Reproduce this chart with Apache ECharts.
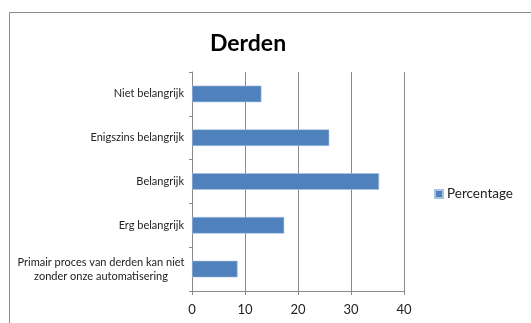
<!DOCTYPE html>
<html>
<head>
<meta charset="utf-8">
<script src="https://cdn.jsdelivr.net/npm/echarts@6/dist/echarts.min.js"></script>
<style>
  html, body { margin: 0; padding: 0; background: #fff; }
  #chart { width: 531px; height: 323px; }
</style>
</head>
<body>
<div id="chart"></div>
<script>
// Categories listed top to bottom
const categories = [
  'Niet belangrijk',
  'Enigszins belangrijk',
  'Belangrijk',
  'Erg belangrijk',
  'Primair proces van derden kan niet\nzonder onze automatisering'
];
const percentage = [13.1, 25.9, 35.3, 17.4, 8.6];
const seriesName = 'Percentage';
const titleText = 'Derden';
const xMin = 0, xMax = 40, xStep = 10;

const FONT = 'Lato, "Open Sans", sans-serif';
const chart = echarts.init(document.getElementById('chart'), null, { renderer: 'canvas' });

chart.setOption({
  animation: false,
  backgroundColor: '#fff',
  graphic: [{
    type: 'rect',
    shape: { x: 9.5, y: 12.5, width: 600, height: 400 },
    style: { fill: 'none', stroke: '#8a8a8a', lineWidth: 1 },
    silent: true
  }],
  title: {
    text: titleText,
    left: 243,
    textAlign: 'center',
    top: 27,
    textStyle: { fontFamily: FONT, fontWeight: 'bold', fontSize: 23, color: '#000' }
  },
  legend: {
    data: [seriesName],
    left: 429,
    top: 182,
    itemWidth: 8,
    itemHeight: 8,
    itemGap: 4,
    icon: 'rect',
    textStyle: { fontFamily: FONT, fontSize: 13.5, color: '#222', padding: [0, 0, 0, -1] }
  },
  grid: { left: 192, right: 127, top: 72, bottom: 32, containLabel: false },
  xAxis: {
    type: 'value',
    min: xMin, max: xMax, interval: xStep,
    axisLine: { show: true, lineStyle: { color: '#8a8a8a' } },
    axisTick: { show: true, length: 4, lineStyle: { color: '#8a8a8a' } },
    splitLine: { show: true, lineStyle: { color: '#8a8a8a', width: 1 } },
    axisLabel: { fontFamily: FONT, fontSize: 13, color: '#222', margin: 12 }
  },
  yAxis: {
    type: 'category',
    data: categories,
    inverse: true,
    axisLine: { show: true, lineStyle: { color: '#8a8a8a' } },
    axisTick: { show: true, length: 3, lineStyle: { color: '#8a8a8a' } },
    axisLabel: {
      fontFamily: FONT, fontSize: 11, color: '#222', margin: 8, lineHeight: 14,
      formatter: function (v) {
        if (v.indexOf('\n') < 0) return v;
        return v.split('\n').map(function (s) { return '{c|' + s + '}'; }).join('\n');
      },
      rich: {
        c: { width: 166, align: 'center', fontFamily: FONT, fontSize: 11, color: '#222', lineHeight: 14 }
      }
    }
  },
  series: [{
    name: seriesName,
    type: 'bar',
    data: percentage,
    barCategoryGap: '62%',
    itemStyle: { color: '#4F81BD', borderColor: '#a9c2e0', borderWidth: 0.6 }
  }]
});
</script>
</body>
</html>
